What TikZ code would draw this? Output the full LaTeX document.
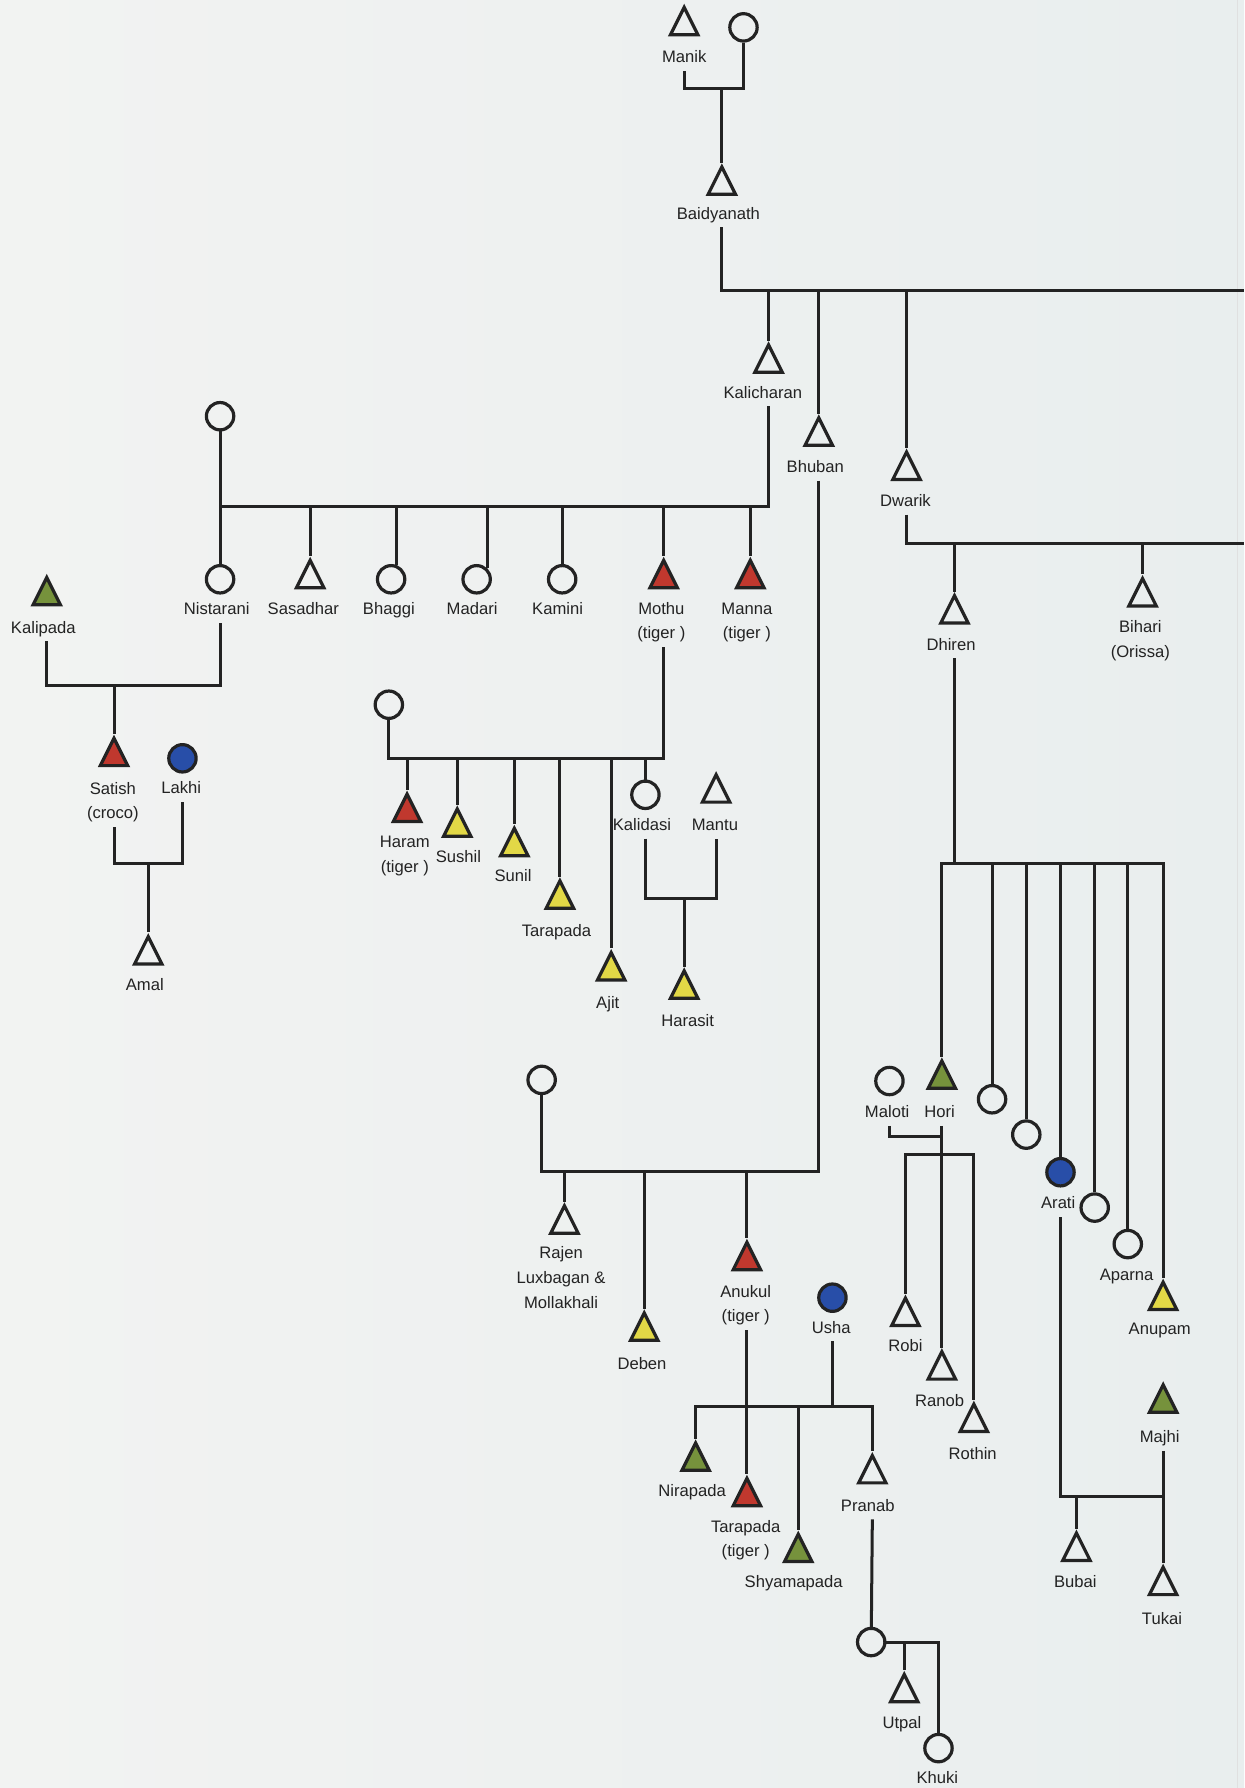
\documentclass[tikz,border=0pt]{standalone}
\usepackage{fontspec}
\setmainfont{Liberation Sans}
\usetikzlibrary{shapes.geometric}
\definecolor{ink}{RGB}{35,35,35}
\definecolor{paperL}{RGB}{242,243,242}
\definecolor{paperR}{RGB}{233,238,238}
\definecolor{tigred}{RGB}{192,56,46}
\definecolor{ochre}{RGB}{226,216,70}
\definecolor{moss}{RGB}{118,146,60}
\definecolor{navy}{RGB}{40,78,168}

\begin{document}
\begin{tikzpicture}[x=0.02cm, y=-0.02cm,
  male/.style={isosceles triangle, shape border rotate=90,
    isosceles triangle stretches, minimum width=0.48cm,
    minimum height=0.48cm, inner sep=0pt, draw=ink, line width=1.6pt},
  fem/.style={circle, minimum size=0.48cm, inner sep=0pt,
    draw=ink, line width=1.6pt},
  redm/.style={male, fill=tigred},
  yelm/.style={male, fill=ochre},
  grnm/.style={male, fill=moss},
  bluf/.style={fem, fill=navy},
  lbl/.style={font=\fontsize{8.3}{12.3}\selectfont, text=ink, align=center,
    text height=5.9pt, text depth=0pt, inner xsep=1pt, inner ysep=3.9pt},
  link/.style={draw=ink, line width=1.5pt}
]
% Paper
\useasboundingbox (0,0) rectangle (1091,1568);
\shade[left color=paperL, right color=paperR] (0,0) rectangle (1091,1568);
\draw[black!12, line width=0.6pt] (1085,0) -- (1085,1568);

% Manik and Baidyanath
\node[male] (Manik) at (600,23) {};
\node[lbl] (lManik) at (600,50) {Manik};
\node[fem] (wManik) at (652,24) {};
\coordinate (mManik) at (633,78);
\node[male] (Baidyanath) at (633,163) {};
\node[lbl] (lBaidyanath) at (630,187) {Baidyanath};
\draw[link] (Manik |- lManik.south) |- (mManik) -| (wManik);
\draw[link] (mManik) -- (Baidyanath);

% Sons of Baidyanath
\coordinate (eBaid) at (1091,255);
\node[male] (Kalicharan) at (674,319) {};
\node[lbl] (lKalicharan) at (669,344) {Kalicharan};
\node[male] (Bhuban) at (718,383) {};
\node[lbl] (lBhuban) at (715,409) {Bhuban};
\node[male] (Dwarik) at (795,413) {};
\node[lbl] (lDwarik) at (794,439) {Dwarik};
\draw[link] (Baidyanath |- lBaidyanath.south) |- (eBaid);
\draw[link] (Kalicharan |- eBaid) -- (Kalicharan);
\draw[link] (Bhuban |- eBaid) -- (Bhuban);
\draw[link] (Dwarik |- eBaid) -- (Dwarik);

% Kalicharan's family
\node[fem] (wKalicharan) at (193,365) {};
\coordinate (bKali) at (193,444);
\node[fem] (Nistarani) at (193,508) {};
\node[lbl] (lNistarani) at (190,534) {Nistarani};
\node[male] (Sasadhar) at (272,508) {};
\node[lbl] (lSasadhar) at (266,534) {Sasadhar};
\node[fem] (Bhaggi) at (343,508) {};
\node[lbl] (lBhaggi) at (341,534) {Bhaggi};
\node[fem] (Madari) at (418,508) {};
\node[lbl] (lMadari) at (414,534) {Madari};
\node[fem] (Kamini) at (493,508) {};
\node[lbl] (lKamini) at (489,534) {Kamini};
\node[redm] (Mothu) at (582,508) {};
\node[lbl] (lMothu) at (580,555) {Mothu\\(tiger )};
\node[redm] (Manna) at (658,508) {};
\node[lbl] (lManna) at (655,555) {Manna\\(tiger )};
\draw[link] (Kalicharan |- lKalicharan.south) |- (bKali) -- (wKalicharan);
\draw[link] (bKali) -- (Nistarani);
\draw[link] (Sasadhar |- bKali) -- (Sasadhar);
\draw[link] (Bhaggi.70 |- bKali) -- (Bhaggi.70);
\draw[link] (Madari.north east |- bKali) -- (Madari.north east);
\draw[link] (Kamini |- bKali) -- (Kamini);
\draw[link] (Mothu |- bKali) -- (Mothu);
\draw[link] (Manna |- bKali) -- (Manna);

% Nistarani and Kalipada
\node[grnm] (Kalipada) at (41,523) {};
\node[lbl] (lKalipada) at (38,550) {Kalipada};
\coordinate (bNist) at (100,601);
\node[redm] (Satish) at (100,664) {};
\node[lbl] (lSatish) at (99,713) {Satish\\(croco)};
\node[bluf] (Lakhi) at (160,665) {};
\node[lbl] (lLakhi) at (159,691) {Lakhi};
\coordinate (bSatish) at (130,757);
\node[male] (Amal) at (130,838) {};
\node[lbl] (lAmal) at (127,863) {Amal};
\draw[link] (Nistarani |- lNistarani.south) |- (bNist) -| (Kalipada |- lKalipada.south);
\draw[link] (bNist) -- (Satish);
\draw[link] (Satish |- lSatish.south) |- (bSatish) -| (Lakhi |- lLakhi.south);
\draw[link] (bSatish) -- (Amal);

% Mothu's family
\node[fem] (wMothu) at (341,618) {};
\coordinate (bMothu) at (341,665);
\node[redm] (Haram) at (357,713) {};
\node[lbl] (lHaram) at (355,760) {Haram\\(tiger )};
\node[yelm] (Sushil) at (401,726) {};
\node[lbl] (lSushil) at (402,751) {Sushil};
\node[yelm] (Sunil) at (451,743) {};
\node[lbl] (lSunil) at (450,768) {Sunil};
\node[yelm] (Tarapada) at (491,789) {};
\node[lbl] (lTarapada) at (488,816) {Tarapada};
\node[yelm] (Ajit) at (536,852) {};
\node[lbl] (lAjit) at (533,879) {Ajit};
\node[fem] (Kalidasi) at (566,697) {};
\node[lbl] (lKalidasi) at (563,723) {Kalidasi};
\node[male] (Mantu) at (628,696) {};
\node[lbl] (lMantu) at (627,723) {Mantu};
\coordinate (bKalidasi) at (600,788);
\node[yelm] (Harasit) at (600,868) {};
\node[lbl] (lHarasit) at (603,895) {Harasit};
\draw[link] (Mothu |- lMothu.south) |- (bMothu) -- (wMothu);
\draw[link] (Haram |- bMothu) -- (Haram);
\draw[link] (Sushil |- bMothu) -- (Sushil);
\draw[link] (Sunil |- bMothu) -- (Sunil);
\draw[link] (Tarapada |- bMothu) -- (Tarapada);
\draw[link] (Ajit |- bMothu) -- (Ajit);
\draw[link] (Kalidasi |- bMothu) -- (Kalidasi);
\draw[link] (Kalidasi |- lKalidasi.south) |- (bKalidasi) -| (Mantu |- lMantu.south);
\draw[link] (bKalidasi) -- (Harasit);

% Bhuban's family
\node[fem] (wBhuban) at (475,947) {};
\coordinate (bBhuban) at (475,1027);
\node[male] (Rajen) at (495,1074) {};
\node[lbl] (lRajen) at (492,1142) {Rajen\\Luxbagan \&\\Mollakhali};
\node[yelm] (Deben) at (565,1168) {};
\node[lbl] (lDeben) at (563,1196) {Deben};
\node[redm] (Anukul) at (655,1106) {};
\node[lbl] (lAnukul) at (654,1154) {Anukul\\(tiger )};
\draw[link] (Bhuban |- lBhuban.south) |- (bBhuban) -- (wBhuban);
\draw[link] (Rajen |- bBhuban) -- (Rajen);
\draw[link] (Deben |- bBhuban) -- (Deben);
\draw[link] (Anukul |- bBhuban) -- (Anukul);

% Anukul and Usha
\node[bluf] (Usha) at (730,1138) {};
\node[lbl] (lUsha) at (729,1164) {Usha};
\coordinate (bAnukul) at (700,1233);
\node[grnm] (Nirapada) at (610,1282) {};
\node[lbl] (lNirapada) at (607,1307) {Nirapada};
\node[redm] (TarapadaA) at (655,1313) {};
\node[lbl] (lTarapadaA) at (654,1360) {Tarapada\\(tiger )};
\node[grnm] (Shyamapada) at (700,1362) {};
\node[lbl] (lShyamapada) at (696,1387) {Shyamapada};
\node[male] (Pranab) at (765,1293) {};
\node[lbl] (lPranab) at (761,1320) {Pranab};
\draw[link] (Anukul |- lAnukul.south) -- (Anukul |- bAnukul);
\draw[link] (Usha |- lUsha.south) -- (Usha |- bAnukul);
\draw[link] (Nirapada) |- (bAnukul) -| (Pranab);
\draw[link] (TarapadaA |- bAnukul) -- (TarapadaA);
\draw[link] (bAnukul) -- (Shyamapada);

% Pranab's family
\node[fem] (wPranab) at (764,1440) {};
\node[male] (Utpal) at (793,1485) {};
\node[lbl] (lUtpal) at (791,1511) {Utpal};
\node[fem] (Khuki) at (823,1533) {};
\node[lbl] (lKhuki) at (822,1559) {Khuki};
\draw[link] (Pranab |- lPranab.south) -- (wPranab);
\draw[link] (wPranab.east) -| (Khuki);
\draw[link] (Utpal |- wPranab.east) -- (Utpal);

% Dwarik's family
\coordinate (eDwarik) at (1091,477);
\node[male] (Dhiren) at (837,539) {};
\node[lbl] (lDhiren) at (834,565) {Dhiren};
\node[male] (Bihari) at (1002,524) {};
\node[lbl] (lBihari) at (1000,571) {Bihari\\(Orissa)};
\draw[link] (Dwarik |- lDwarik.south) |- (eDwarik);
\draw[link] (Dhiren |- eDwarik) -- (Dhiren);
\draw[link] (Bihari |- eDwarik) -- (Bihari);

% Dhiren's family
\coordinate (bDhiren) at (837,757);
\node[grnm] (Hori) at (826,947) {};
\node[lbl] (lHori) at (824,975) {Hori};
\node[fem] (dA) at (870,964) {};
\node[fem] (dB) at (900,995) {};
\node[bluf] (Arati) at (930,1028) {};
\node[lbl] (lArati) at (928,1055) {Arati};
\node[fem] (dC) at (960,1059) {};
\node[fem] (Aparna) at (989,1091) {};
\node[lbl] (lAparna) at (988,1118) {Aparna};
\node[yelm] (Anupam) at (1020,1141) {};
\node[lbl] (lAnupam) at (1017,1165) {Anupam};
\draw[link] (Dhiren |- lDhiren.south) -- (bDhiren);
\draw[link] (Hori) |- (bDhiren) -| (Anupam);
\draw[link] (dA |- bDhiren) -- (dA);
\draw[link] (dB |- bDhiren) -- (dB);
\draw[link] (Arati |- bDhiren) -- (Arati);
\draw[link] (dC |- bDhiren) -- (dC);
\draw[link] (Aparna |- bDhiren) -- (Aparna);

% Hori and Maloti
\node[fem] (Maloti) at (780,948) {};
\node[lbl] (lMaloti) at (778,975) {Maloti};
\coordinate (mHori) at (826,997);
\coordinate (bHori) at (826,1012);
\node[male] (Robi) at (794,1155) {};
\node[lbl] (lRobi) at (794,1180) {Robi};
\node[male] (Ranob) at (826,1202) {};
\node[lbl] (lRanob) at (824,1228) {Ranob};
\node[male] (Rothin) at (854,1248) {};
\node[lbl] (lRothin) at (853,1275) {Rothin};
\draw[link] (Maloti |- lMaloti.south) |- (mHori);
\draw[link] (Hori |- lHori.south) -- (Ranob);
\draw[link] (Robi) |- (bHori) -| (Rothin);

% Arati and Majhi
\node[grnm] (Majhi) at (1020,1231) {};
\node[lbl] (lMajhi) at (1017,1260) {Majhi};
\coordinate (bArati) at (1020,1312);
\node[male] (Bubai) at (944,1361) {};
\node[lbl] (lBubai) at (943,1387) {Bubai};
\node[male] (Tukai) at (1020,1391) {};
\node[lbl] (lTukai) at (1019,1419) {Tukai};
\draw[link] (Arati |- lArati.south) |- (bArati);
\draw[link] (Majhi |- lMajhi.south) -- (Tukai);
\draw[link] (Bubai |- bArati) -- (Bubai);
\end{tikzpicture}
\end{document}
